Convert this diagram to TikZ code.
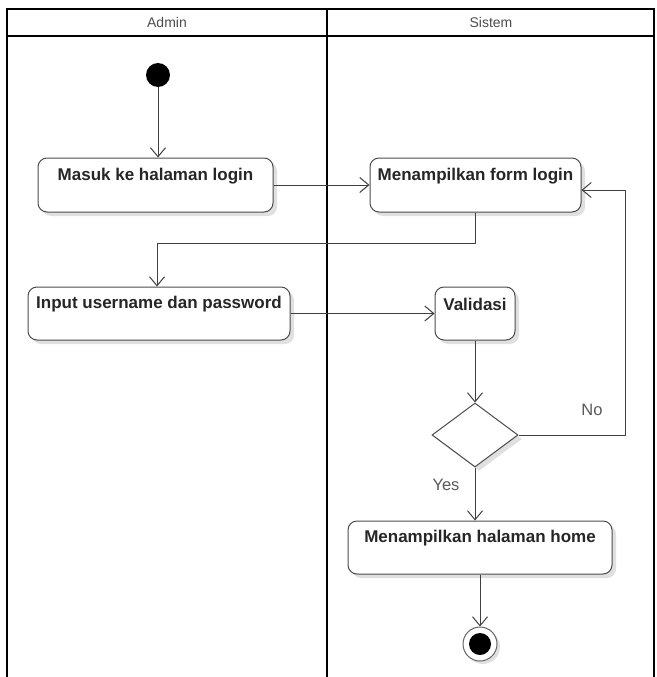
\documentclass[tikz,border=0pt]{standalone}
\usepackage{fontspec}
\setmainfont{Liberation Sans}
\usetikzlibrary{arrows.meta,shadows,shapes.geometric}
\tikzstyle{action}=[draw=black!70, line width=1pt, rounded corners=9pt, fill=white,
                    minimum height=54pt, inner sep=0,
                    drop shadow={shadow xshift=4pt, shadow yshift=-4pt, fill=black!12, opacity=1}]
\tikzstyle{actiontext}=[font=\fontsize{17}{19}\selectfont\bfseries, text=black!85, yshift=9pt]
\tikzstyle{flow}=[draw=black!75, line width=1pt, -{Straight Barb[length=9pt,width=15pt]}]
\tikzstyle{guard}=[font=\fontsize{16.5}{18}\selectfont, text=black!65]
\tikzstyle{lane}=[draw=black, line width=1.5pt]

\begin{document}
\begin{tikzpicture}[x=1pt, y=-1pt]
    \useasboundingbox (0,0) rectangle (656,677);
    % swimlanes
    \draw[lane] (7,677) -- (7,9) -- (654,9) -- (654,677);
    \draw[lane] (327,9) -- (327,677);
    \draw[lane] (7,36) -- (654,36);
    \node[guard, font=\fontsize{14}{16}\selectfont, text=black!70] (laneadmin) at (167,22) {Admin};
    \node[guard, font=\fontsize{14}{16}\selectfont, text=black!70] (lanesistem) at (491,22) {Sistem};
    % states
    \node[circle, fill=black, minimum size=24pt, inner sep=0] (start) at (158,75) {};
    \node[action, minimum width=235pt, label={[actiontext]center:Masuk ke halaman login}] (masuk) at (155.5,185) {};
    \node[action, minimum width=211pt, label={[actiontext]center:Menampilkan form login}] (form) at (475.5,185) {};
    \node[action, minimum width=262pt, minimum height=53pt, label={[actiontext]center:Input username dan password}] (input) at (159,313.5) {};
    \node[action, minimum width=80pt, minimum height=53pt, label={[actiontext]center:Validasi}] (valid) at (475,313.5) {};
    \node[diamond, draw=black!70, line width=1pt, fill=white, minimum width=86pt, minimum height=64pt, inner sep=0,
          drop shadow={shadow xshift=4pt, shadow yshift=-4pt, fill=black!12, opacity=1}] (dec) at (475,435) {};
    \node[action, minimum width=264pt, minimum height=53pt, label={[actiontext]center:Menampilkan halaman home}] (home) at (480,547.5) {};
    \node[circle, draw=black!60, line width=1pt, fill=white, minimum size=34pt, inner sep=0,
          drop shadow={shadow xshift=3pt, shadow yshift=-3pt, fill=black!12, opacity=1}] (end) at (480,644) {};
    \node[circle, fill=black, minimum size=22pt, inner sep=0] (endin) at (end) {};
    % flows
    \coordinate (back) at (157,243);
    \coordinate (noturn) at (625,435);
    \draw[flow] (start) -- (start |- masuk.north);
    \draw[flow] (masuk) -- (form);
    \draw[flow] (form.south) |- (back) -- (back |- input.north);
    \draw[flow] (input) -- (valid);
    \draw[flow] (valid) -- (dec);
    \draw[flow] (dec.east) -- (noturn) |- ([yshift=-5pt]form.east);
    \draw[flow] (dec.south) -- (dec.south |- home.north);
    \draw[flow] (home.south) -- (end);
    \node[guard] (no) at (592,410) {No};
    \node[guard] (yes) at (446,485) {Yes};
\end{tikzpicture}
\end{document}
